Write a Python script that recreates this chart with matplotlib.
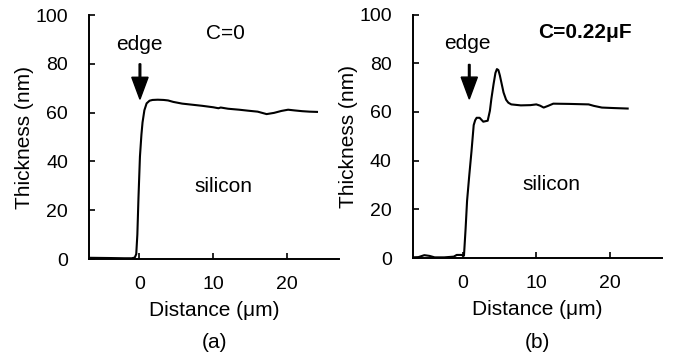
import matplotlib
matplotlib.use("Agg")
import matplotlib.pyplot as plt

plt.rcParams['font.family'] = ['Liberation Sans', 'DejaVu Sans']

# Panel (a): C = 0
dist_a = [-6.8, -4, -2, -1.0, -0.6, -0.4, -0.25, -0.1, 0.1, 0.3, 0.45, 0.7, 1.0, 1.4, 1.8, 2.5, 3.3, 3.9, 4.6,
          5.8, 7.0, 8.5, 10.0, 10.7, 11.0, 12.0, 13.5, 14.7, 16.0, 17.2, 18.2, 19.2, 20.1, 21.0, 22.0, 23.0, 24.0]
thick_a = [0.5, 0.4, 0.3, 0.3, 0.6, 2.0, 10.0, 25.0, 42.0, 51.0, 56.0, 61.0, 63.8, 64.9, 65.2, 65.3, 65.2, 65.0, 64.4,
           63.7, 63.3, 62.8, 62.2, 61.8, 62.1, 61.6, 61.2, 60.8, 60.4, 59.4, 59.9, 60.7, 61.2, 60.9, 60.6, 60.4, 60.3]

# Panel (b): C = 0.22 uF
dist_b = [-6.8, -6.0, -5.2, -4.5, -3.8, -2.5, -1.2, -0.8, -0.2, 0.18, 0.4, 0.6, 0.9, 1.2, 1.5, 1.7, 1.9, 2.3, 2.8,
          3.4, 3.7, 3.9, 4.2, 4.45, 4.65, 4.85, 5.05, 5.3, 5.55, 5.9, 6.2, 6.6, 7.9, 9.2, 10.0, 10.5, 11.0, 11.6,
          12.3, 14.5, 17.1, 17.8, 18.9, 20.5, 22.4]
thick_b = [0.3, 0.4, 1.2, 0.9, 0.3, 0.3, 0.6, 1.3, 1.3, 1.0, 12.0, 23.5, 34.0, 43.8, 54.6, 56.6, 57.6, 57.6, 56.0,
           56.4, 60.5, 65.4, 71.5, 76.0, 77.6, 77.2, 75.0, 71.5, 68.0, 65.0, 63.8, 63.1, 62.7, 62.8, 63.1, 62.6,
           61.8, 62.5, 63.4, 63.3, 63.1, 62.5, 61.8, 61.6, 61.4]

xticks = [0, 10, 20]
yticks = [0, 20, 40, 60, 80, 100]

fig = plt.figure(figsize=(6.73, 3.63), dpi=100)
ax_a = fig.add_axes([0.132, 0.2865, 0.372, 0.672])
ax_b = fig.add_axes([0.613, 0.289, 0.370, 0.671])

FS = 15
TFS = 14

def style(ax):
    ax.set_xlim(-6.8, 27)
    ax.set_ylim(0, 100)
    for s in ['top', 'right']:
        ax.spines[s].set_visible(False)
    for s in ['left', 'bottom']:
        ax.spines[s].set_linewidth(1.4)
    ax.set_xticks(xticks)
    ax.set_yticks(yticks)
    ax.tick_params(direction='in', length=4, width=1.2, labelsize=TFS)
    ax.tick_params(axis='y', pad=15)
    ax.tick_params(axis='x', pad=12)
    ax.set_xlabel('Distance (\u03bcm)', fontsize=FS, labelpad=6)
    ax.set_ylabel('Thickness (nm)', fontsize=FS, labelpad=1)

style(ax_a)
style(ax_b)

ax_a.plot(dist_a, thick_a, color='black', lw=1.5)
ax_b.plot(dist_b, thick_b, color='black', lw=1.5)

ax_a.text(0.0, 88, 'edge', ha='center', va='center', fontsize=FS)
ax_a.arrow(0.1, 80, 0, -14.5, width=0.22, head_width=2.2, head_length=9,
           length_includes_head=True, color='black')
ax_a.text(11.6, 92.5, 'C=0', ha='center', va='center', fontsize=FS)
ax_a.text(11.4, 29.6, 'silicon', ha='center', va='center', fontsize=FS)

ax_b.text(0.7, 88, 'edge', ha='center', va='center', fontsize=FS)
ax_b.arrow(0.9, 79.5, 0, -14.2, width=0.22, head_width=2.2, head_length=9,
           length_includes_head=True, color='black')
ax_b.text(16.6, 92.5, 'C=0.22\u03bcF', ha='center', va='center', fontsize=FS, fontweight='bold')
ax_b.text(12.0, 30.3, 'silicon', ha='center', va='center', fontsize=FS)

fig.text((0.132 + 0.504) / 2, 1 - 343 / 363, '(a)', ha='center', va='center', fontsize=FS)
fig.text((0.613 + 0.983) / 2, 1 - 343 / 363, '(b)', ha='center', va='center', fontsize=FS)

fig.savefig('out.png', dpi=100)
